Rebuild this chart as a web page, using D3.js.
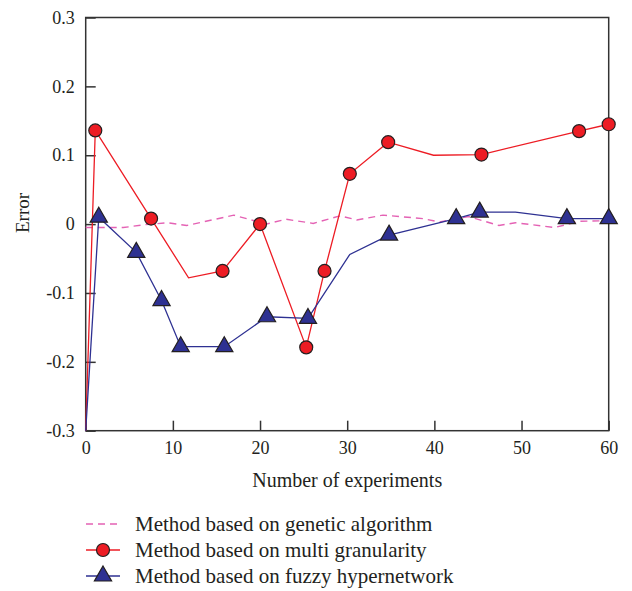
<!DOCTYPE html>
<html><head><meta charset="utf-8">
<script src="https://cdn.jsdelivr.net/npm/d3@7"></script>
<style>body{margin:0;background:#fff}svg{display:block}</style>
</head><body>
<svg id="c" width="632" height="591"></svg>
<script>
const xTicks = [0, 10, 20, 30, 40, 50, 60];
const yTicks = [-0.3, -0.2, -0.1, 0, 0.1, 0.2, 0.3];
const yTickLabels = ["-0.3", "-0.2", "-0.1", "0", "0.1", "0.2", "0.3"];
const seriesNames = ["Method based on genetic algorithm", "Method based on multi granularity", "Method based on fuzzy hypernetwork"];

// Genetic algorithm (dashed, no markers)
const gaX = [0, 4.3, 6.7, 9.4, 11.6, 17.0, 20.7, 23.0, 26.1, 29.2, 31.1, 34.1, 38.7, 40.6, 43.9, 47.4, 49.3, 53.8, 56.6, 60];
const gaY = [-0.005, -0.005, -0.001, 0.002, -0.002, 0.013, 0.0, 0.007, 0.001, 0.012, 0.006, 0.013, 0.008, 0.003, 0.011, -0.002, 0.002, -0.005, 0.004, 0.005];

// Multi granularity (red, circle markers; mgM = has marker)
const mgX = [0, 1.1, 7.5, 11.8, 15.7, 20.0, 25.3, 27.4, 30.3, 34.7, 39.9, 45.4, 56.6, 60];
const mgY = [-0.3, 0.136, 0.008, -0.078, -0.068, 0.0, -0.179, -0.068, 0.073, 0.119, 0.1, 0.101, 0.135, 0.145];
const mgM = [0, 1, 1, 0, 1, 1, 1, 1, 1, 1, 0, 1, 1, 1];

// Fuzzy hypernetwork (blue, triangle markers)
const fhX = [0, 1.5, 5.8, 8.7, 10.9, 15.9, 20.8, 25.5, 30.3, 34.8, 42.5, 45.2, 49.3, 55.2, 60];
const fhY = [-0.3, 0.01, -0.041, -0.111, -0.178, -0.178, -0.1345, -0.137, -0.044, -0.016, 0.008, 0.0174, 0.0174, 0.008, 0.008];
const fhM = [0, 1, 1, 1, 1, 1, 1, 1, 0, 1, 1, 1, 0, 1, 1];

const L = 85.7, R = 608.7, T = 17.5, B = 430.7;
const FONT = "'Liberation Serif','DejaVu Serif',serif";
const RED = "#ed1c24", BLUE = "#2e3192", PINK = "#e462b4", AX = "#333";

const svg = d3.select("#c");
const x = d3.scaleLinear().domain([0, 60]).range([L, R]);
const y = d3.scaleLinear().domain([-0.3, 0.3]).range([B, T]);

// frame
svg.append("rect").attr("x", L).attr("y", T).attr("width", R - L).attr("height", B - T)
  .attr("fill", "none").attr("stroke", AX).attr("stroke-width", 1.5);

// axes with inward ticks
const xAxis = d3.axisBottom(x).tickValues(xTicks).tickSize(-10).tickPadding(11).tickFormat(d3.format("d"));
const gx = svg.append("g").attr("transform", `translate(0,${B})`).call(xAxis);
gx.select(".domain").remove();
gx.selectAll("line").attr("stroke", AX).attr("stroke-width", 1.5);
gx.selectAll("text").attr("font-family", FONT).attr("font-size", 18).attr("fill", "#231f20");

const yAxis = d3.axisLeft(y).tickValues(yTicks).tickSize(-10).tickPadding(11).tickFormat((d, i) => yTickLabels[i]);
const gy = svg.append("g").attr("transform", `translate(${L},0)`).call(yAxis);
gy.select(".domain").remove();
gy.selectAll("line").attr("stroke", AX).attr("stroke-width", 1.5);
gy.selectAll("text").attr("font-family", FONT).attr("font-size", 18).attr("fill", "#231f20");

svg.append("text").attr("x", (L + R) / 2).attr("y", 487).attr("text-anchor", "middle")
  .attr("font-family", FONT).attr("font-size", 20).attr("fill", "#231f20").text("Number of experiments");
svg.append("text").attr("transform", "translate(29,213) rotate(-90)").attr("text-anchor", "middle")
  .attr("font-family", FONT).attr("font-size", 19).attr("fill", "#231f20").text("Error");

const line = d3.line().x(d => x(d[0])).y(d => y(d[1]));
const ga = gaX.map((v, i) => [v, gaY[i]]);
const mg = mgX.map((v, i) => [v, mgY[i], mgM[i]]);
const fh = fhX.map((v, i) => [v, fhY[i], fhM[i]]);

svg.append("path").datum(ga).attr("d", line).attr("fill", "none").attr("stroke", PINK)
  .attr("stroke-width", 1.4).attr("stroke-dasharray", "7,5");
svg.append("path").datum(mg).attr("d", line).attr("fill", "none").attr("stroke", RED).attr("stroke-width", 1.3);
svg.append("path").datum(fh).attr("d", line).attr("fill", "none").attr("stroke", BLUE).attr("stroke-width", 1.3);

const tri = "M0,-10L8.6,5L-8.6,5Z";
svg.selectAll(".mgm").data(mg.filter(d => d[2])).join("circle")
  .attr("cx", d => x(d[0])).attr("cy", d => y(d[1])).attr("r", 6.5)
  .attr("fill", RED).attr("stroke", "#231f20").attr("stroke-width", 1.2);
svg.selectAll(".fhm").data(fh.filter(d => d[2])).join("path")
  .attr("transform", d => `translate(${x(d[0])},${y(d[1])})`).attr("d", tri)
  .attr("fill", BLUE).attr("stroke", "#231f20").attr("stroke-width", 1.2);

// legend
const lg = svg.append("g");
const rows = [524, 550, 576];
lg.append("line").attr("x1", 86).attr("x2", 120).attr("y1", rows[0]).attr("y2", rows[0])
  .attr("stroke", PINK).attr("stroke-width", 1.4).attr("stroke-dasharray", "7,5");
lg.append("line").attr("x1", 86).attr("x2", 120).attr("y1", rows[1]).attr("y2", rows[1])
  .attr("stroke", RED).attr("stroke-width", 1.3);
lg.append("circle").attr("cx", 103).attr("cy", rows[1]).attr("r", 6.5)
  .attr("fill", RED).attr("stroke", "#231f20").attr("stroke-width", 1.2);
lg.append("line").attr("x1", 86).attr("x2", 120).attr("y1", rows[2]).attr("y2", rows[2])
  .attr("stroke", BLUE).attr("stroke-width", 1.3);
lg.append("path").attr("transform", `translate(103,${rows[2]})`).attr("d", tri)
  .attr("fill", BLUE).attr("stroke", "#231f20").attr("stroke-width", 1.2);
seriesNames.forEach((n, i) => {
  lg.append("text").attr("x", 135).attr("y", rows[i]).attr("dy", "0.35em")
    .attr("font-family", FONT).attr("font-size", 21).attr("fill", "#231f20").text(n);
});
</script>
</body></html>
